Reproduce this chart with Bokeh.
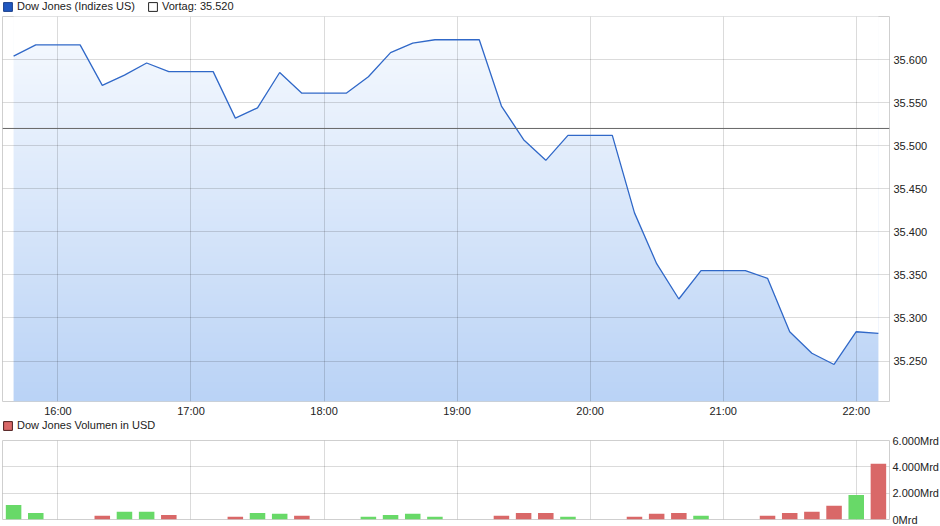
import numpy as np
import pandas as pd

from bokeh.embed import file_html
from bokeh.layouts import column
from bokeh.models import DatetimeTickFormatter, FixedTicker, Legend, LegendItem, Range1d, Span
from bokeh.plotting import figure
from bokeh.resources import INLINE

DAY = "2021-09-09"

# 10-minute bars, Dow Jones intraday
times = [
    "15:40", "15:50", "16:00", "16:10", "16:20", "16:30", "16:40", "16:50",
    "17:00", "17:10", "17:20", "17:30", "17:40", "17:50", "18:00", "18:10",
    "18:20", "18:30", "18:40", "18:50", "19:00", "19:10", "19:20", "19:30",
    "19:40", "19:50", "20:00", "20:10", "20:20", "20:30", "20:40", "20:50",
    "21:00", "21:10", "21:20", "21:30", "21:40", "21:50", "22:00", "22:10",
]
prices = [
    35604, 35617, 35617, 35617, 35570, 35582, 35596, 35586,
    35586, 35586, 35532, 35544, 35585, 35561, 35561, 35561,
    35580, 35608, 35619, 35623, 35623, 35623, 35546, 35507,
    35483, 35512, 35512, 35512, 35422, 35363, 35322, 35355,
    35355, 35355, 35346, 35284, 35259, 35246, 35284, 35282,
]
volumes = [
    1100, 500, 0, 0, 280, 580, 580, 350,
    0, 0, 200, 500, 430, 280, 0, 0,
    200, 350, 430, 200, 0, 0, 280, 500,
    500, 200, 0, 0, 200, 430, 500, 280,
    0, 0, 280, 500, 580, 1040, 1870, 4230,
]
vortag = 35520

hour_labels = ["16:00", "17:00", "18:00", "19:00", "20:00", "21:00", "22:00"]
price_ticks = [35250, 35300, 35350, 35400, 35450, 35500, 35550, 35600]
price_tick_labels = ["35.250", "35.300", "35.350", "35.400", "35.450", "35.500", "35.550", "35.600"]
vol_ticks = [0, 2000, 4000, 6000]
vol_tick_labels = ["0Mrd", "2.000Mrd", "4.000Mrd", "6.000Mrd"]

x_window = ("15:35", "22:15")
price_window = (35203, 35650)
vol_window = (0, 6000)

FONT = "Liberation Sans"
FONT_SIZE = "11px"
TEXT = "#222222"
LINE_BLUE = "#3068c8"
GREEN = "#68d968"
RED = "#d96868"
LEFT = 2
RIGHT = 51
FW = 940 - LEFT - RIGHT


def ms(hhmm):
    return pd.Timestamp(f"{DAY} {hhmm}").value // 10**6


t = np.array([ms(s) for s in times], dtype=float)
hour_ms = [float(ms(h)) for h in hour_labels]
up = [True] + [b >= a for a, b in zip(prices, prices[1:])]
bar_colors = [GREEN if u else RED for u in up]

x_range = Range1d(ms(x_window[0]), ms(x_window[1]))


def style(p):
    p.outline_line_color = "#cfcfcf"
    p.background_fill_color = "white"
    p.border_fill_color = "white"
    p.grid.grid_line_color = "#000000"
    p.grid.grid_line_alpha = 0.14
    for ax in p.axis:
        ax.axis_line_color = None
        ax.major_tick_line_color = None
        ax.minor_tick_line_color = None
        ax.major_tick_out = 0
        ax.major_tick_in = 0
        ax.major_label_text_font = FONT
        ax.major_label_text_font_size = FONT_SIZE
        ax.major_label_text_color = TEXT


def header(entries, height, padding):
    """Thin strip above a panel holding its legend (annotations in the frame get clipped)."""
    h = figure(
        x_range=Range1d(0, 1), y_range=Range1d(0, 1),
        frame_width=FW, frame_height=height,
        min_border_left=LEFT, min_border_right=RIGHT, min_border_top=0, min_border_bottom=0,
        toolbar_location=None, output_backend="svg",
    )
    h.outline_line_color = None
    h.axis.visible = False
    h.grid.visible = False
    items = []
    for label, fill, line in entries:
        # zero-size quad outside the strip's range, only used as swatch
        r = h.quad(left=[2], right=[2], top=[2], bottom=[2], fill_color=fill, line_color=line)
        items.append(LegendItem(label=label, renderers=[r]))
    h.add_layout(Legend(
        items=items, orientation="horizontal", location="top_left",
        border_line_color=None, background_fill_alpha=0,
        margin=0, padding=padding, spacing=12,
        glyph_width=11, glyph_height=11, label_standoff=4, label_height=11,
        label_text_font=FONT, label_text_font_size=FONT_SIZE, label_text_color=TEXT,
    ))
    return h


# ---- price panel
h1 = header([
    ("Dow Jones (Indizes US)", "#2058c0", "#1a3f8a"),
    (f"Vortag: {vortag:,}".replace(",", "."), "white", "#222222"),
], 16, 1)

p1 = figure(
    x_axis_type="datetime", y_axis_location="right",
    x_range=x_range, y_range=Range1d(*price_window),
    frame_width=FW, frame_height=385,
    min_border_left=LEFT, min_border_top=0, min_border_bottom=16, min_border_right=RIGHT,
    toolbar_location=None, output_backend="svg",
)
style(p1)

# vertical gradient under the line: image + white mask above the curve
rows = 300
frac = np.linspace(0.0, 1.0, rows)[:, None]
bottom_rgb = np.array([186, 211, 246])
top_rgb = np.array([248, 251, 255])
rgb = (bottom_rgb + (top_rgb - bottom_rgb) * frac).astype(np.uint8)
img = np.zeros((rows, 1), dtype=np.uint32)
view = img.view(dtype=np.uint8).reshape((rows, 1, 4))
view[:, 0, 0] = rgb[:, 0]
view[:, 0, 1] = rgb[:, 1]
view[:, 0, 2] = rgb[:, 2]
view[:, 0, 3] = 255
p1.image_rgba(
    image=[img], x=t[0], y=price_window[0],
    dw=t[-1] - t[0], dh=price_window[1] - price_window[0], level="image",
)
p1.varea(x=t, y1=prices, y2=price_window[1], fill_color="white", level="image")

p1.line(t, prices, line_color=LINE_BLUE, line_width=1.3)
p1.add_layout(Span(location=vortag, dimension="width", line_color="#666666", line_width=1))

p1.xaxis.ticker = FixedTicker(ticks=hour_ms)
p1.xgrid.ticker = FixedTicker(ticks=hour_ms)
p1.xaxis.formatter = DatetimeTickFormatter(hours="%H:%M", hourmin="%H:%M")
p1.xaxis.major_label_standoff = 3
p1.yaxis.ticker = FixedTicker(ticks=price_ticks)
p1.ygrid.ticker = FixedTicker(ticks=price_ticks)
p1.yaxis.major_label_overrides = dict(zip(price_ticks, price_tick_labels))
p1.yaxis.major_label_standoff = 4

# ---- volume panel
h2 = header([("Dow Jones Volumen in USD", RED, "#4a1a1a")], 14, 0)

p2 = figure(
    x_axis_type="datetime", y_axis_location="right",
    x_range=x_range, y_range=Range1d(*vol_window),
    frame_width=FW, frame_height=79,
    min_border_left=LEFT, min_border_top=7, min_border_bottom=8, min_border_right=RIGHT,
    toolbar_location=None, output_backend="svg",
)
style(p2)
p2.vbar(x=t, top=volumes, width=7 * 60 * 1000, fill_color=bar_colors, line_color=None)

p2.xaxis.visible = False
p2.xgrid.ticker = FixedTicker(ticks=hour_ms)
p2.yaxis.ticker = FixedTicker(ticks=vol_ticks)
p2.ygrid.ticker = FixedTicker(ticks=vol_ticks)
p2.yaxis.major_label_overrides = dict(zip(vol_ticks, vol_tick_labels))
p2.yaxis.major_label_standoff = 3

layout = column(h1, p1, h2, p2, spacing=0)
open("out.html", "w").write(file_html(layout, INLINE))
